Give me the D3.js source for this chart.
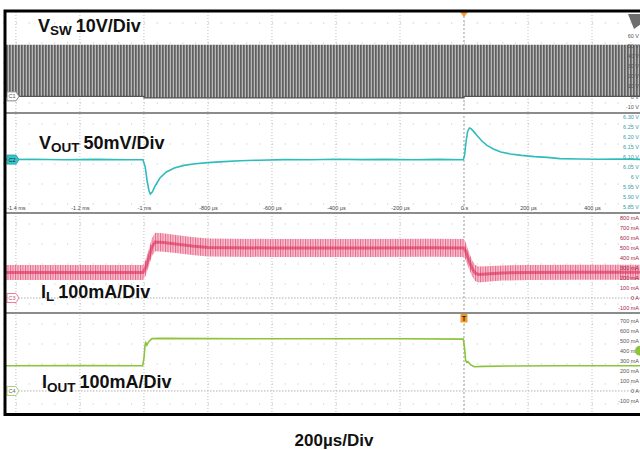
<!DOCTYPE html>
<html>
<head>
<meta charset="utf-8">
<script src="https://cdn.jsdelivr.net/npm/d3@7"></script>
<style>
  body { margin: 0; background: #fff; }
  svg { display: block; font-family: "Liberation Sans", Arial, sans-serif; }
  .lbl { font-weight: bold; fill: #111; }
  .tick-small text { font-size: 5.5px; }
</style>
</head>
<body>
<script>
// time axis (microseconds)
var timeTicks = [-1400, -1200, -1000, -800, -600, -400, -200, 0, 200, 400];
var timeTickLabels = ["-1.4 ms", "-1.2 ms", "-1 ms", "-800 µs", "-600 µs", "-400 µs", "-200 µs", "0 s", "200 µs", "400 µs"];

// right-hand scale labels per channel
var vswTicks = [60, 50, 40, 30, 20, 10, 0, -10];
var vswTickLabels = ["60 V", "50 V", "40 V", "30 V", "20 V", "10 V", "0 V", "-10 V"];
var voutTicks = [6.30, 6.25, 6.20, 6.15, 6.10, 6.05, 6.00, 5.95, 5.90, 5.85];
var voutTickLabels = ["6.30 V", "6.25 V", "6.20 V", "6.15 V", "6.10 V", "6.05 V", "6 V", "5.95 V", "5.90 V", "5.85 V"];
var ilTicks = [800, 700, 600, 500, 400, 300, 200, 100, 0, -100];
var ilTickLabels = ["800 mA", "700 mA", "600 mA", "500 mA", "400 mA", "300 mA", "200 mA", "100 mA", "0 A", "-100 mA"];
var ioutTicks = [700, 600, 500, 400, 300, 200, 100, 0, -100];
var ioutTickLabels = ["700 mA", "600 mA", "500 mA", "400 mA", "300 mA", "200 mA", "100 mA", "0 A", "-100 mA"];

// switch node: envelope of the switching waveform (V)
var vswTime = [-1431, -1000, -1000, 0, 0, 550];
var vswHigh = [51, 51, 51, 51, 51, 51];
var vswLow = [0, 0, -1.5, -1.5, 0, 0];

// output voltage (V)
var voutTime = [-1431, -1350, -1250, -1150, -1050, -1003, -996, -990, -984, -980, -974, -965, -950, -930, -905, -875, -840, -800, -750, -700, -640, -560, -480, -400, -320, -240, -160, -80, -2,
  2, 6, 11, 17, 22, 30, 42, 56, 72, 92, 115, 145, 180, 220, 260, 300, 360, 420, 480, 550];
var voutVal = [6.087, 6.089, 6.086, 6.088, 6.086, 6.086, 6.05, 5.98, 5.93, 5.915, 5.925, 5.955, 5.995, 6.025, 6.045, 6.058, 6.066, 6.072, 6.077, 6.081, 6.084, 6.087, 6.086, 6.089, 6.087, 6.088, 6.086, 6.088, 6.086,
  6.11, 6.17, 6.225, 6.245, 6.242, 6.228, 6.205, 6.18, 6.158, 6.14, 6.125, 6.115, 6.108, 6.102, 6.098, 6.092, 6.09, 6.089, 6.09, 6.088];

// inductor current: ripple centre and half-amplitude (mA)
var ilTime = [-1431, -1200, -1003, -995, -985, -975, -965, -940, -900, -850, -800, -600, -300, -100, 0, 5, 15, 25, 35, 45, 70, 120, 200, 350, 550];
var ilCenter = [255, 256, 255, 300, 400, 510, 560, 555, 540, 520, 505, 500, 500, 502, 500, 470, 380, 300, 250, 236, 240, 250, 256, 258, 258];
var ilRipple = [75, 75, 75, 80, 85, 90, 92, 92, 90, 90, 90, 90, 90, 90, 90, 88, 85, 80, 80, 80, 78, 76, 75, 75, 75];

// output current (mA)
var ioutTime = [-1431, -1200, -1004, -1000, -997, -994, -991, -985, -975, -950, -800, -500, -200, -2, 2, 5, 8, 12, 20, 32, 60, 150, 300, 550];
var ioutVal = [250, 252, 250, 320, 440, 478, 455, 490, 520, 522, 520, 518, 518, 515, 420, 310, 285, 292, 262, 240, 244, 248, 250, 250];

var svgWidth = 640;
var svgHeight = 450;

var svg = d3.select("body")
  .append("svg")
  .attr("width", svgWidth)
  .attr("height", svgHeight);

var defs = svg.append("defs");

// stripe patterns for the dense switching / ripple
var vswPat = defs.append("pattern")
  .attr("id", "vswPat")
  .attr("patternUnits", "userSpaceOnUse")
  .attr("width", 3).attr("height", 10);
vswPat.append("rect").attr("width", 3).attr("height", 10).attr("fill", "#b8b8b8");
vswPat.append("rect").attr("width", 1.7).attr("height", 10).attr("fill", "#606060");

var ilPat = defs.append("pattern")
  .attr("id", "ilPat")
  .attr("patternUnits", "userSpaceOnUse")
  .attr("width", 2.5).attr("height", 10);
ilPat.append("rect").attr("width", 2.5).attr("height", 10).attr("fill", "#f6c4d0");
ilPat.append("rect").attr("width", 1).attr("height", 10).attr("fill", "#e8668a");

var xScale = d3.scaleLinear().domain([-1431, 550]).range([6, 640]);

var yVsw = d3.scaleLinear().domain([-10, 60]).range([106.5, 35.5]);
var yVout = d3.scaleLinear().domain([5.85, 6.30]).range([207, 117]);
var yIl = d3.scaleLinear().domain([-100, 800]).range([308, 218]);
var yIout = d3.scaleLinear().domain([-100, 700]).range([401, 320.5]);

var panels = [
  { top: 12, bottom: 113 },
  { top: 113, bottom: 213 },
  { top: 213, bottom: 313 },
  { top: 313, bottom: 414 }
];

panels.forEach(function(p, i) {
  defs.append("clipPath").attr("id", "clip" + i)
    .append("rect")
    .attr("x", 6).attr("y", p.top + 1)
    .attr("width", 640).attr("height", p.bottom - p.top - 1);
});

// grid
var grid = svg.append("g");
var minorStep = xScale(40) - xScale(0);
panels.forEach(function(p) {
  for (var y = p.top + 11; y < p.bottom - 4; y += 20) {
    grid.append("line")
      .attr("x1", xScale(-1440)).attr("x2", 640)
      .attr("y1", y).attr("y2", y)
      .attr("stroke", "#bcbcbc")
      .attr("stroke-dasharray", "1 " + (minorStep - 1));
  }
});
grid.selectAll(".vgrid")
  .data(timeTicks)
  .enter()
  .append("line")
  .attr("x1", d => xScale(d)).attr("x2", d => xScale(d))
  .attr("y1", 12).attr("y2", 414)
  .attr("stroke", d => d === 0 ? "#9a9a9a" : "#c0c0c0")
  .attr("stroke-dasharray", d => d === 0 ? "2 2" : "1 2");

// reference level lines
[yIl(0), yIout(0)].forEach(function(y) {
  grid.append("line")
    .attr("x1", 6).attr("x2", 640)
    .attr("y1", y).attr("y2", y)
    .attr("stroke", "#b0b0b0")
    .attr("stroke-dasharray", "1.5 1.5");
});

// panel separators
panels.slice(1).forEach(function(p) {
  svg.append("line")
    .attr("x1", 6).attr("x2", 640)
    .attr("y1", p.top).attr("y2", p.top)
    .attr("stroke", "#8c8c8c")
    .attr("stroke-width", 2);
});

// ---- VSW
var vswData = vswTime.map((t, i) => ({ t: t, hi: vswHigh[i], lo: vswLow[i] }));
var g1 = svg.append("g").attr("clip-path", "url(#clip0)");
g1.append("path")
  .datum(vswData)
  .attr("fill", "url(#vswPat)")
  .attr("d", d3.area().x(d => xScale(d.t)).y0(d => yVsw(d.lo)).y1(d => yVsw(d.hi)));
g1.append("path")
  .datum(vswData)
  .attr("fill", "none")
  .attr("stroke", "#555")
  .attr("stroke-width", 1.2)
  .attr("d", d3.line().x(d => xScale(d.t)).y(d => yVsw(d.lo)));

// ---- VOUT
var voutData = voutTime.map((t, i) => ({ t: t, v: voutVal[i] }));
svg.append("g").attr("clip-path", "url(#clip1)")
  .append("path")
  .datum(voutData)
  .attr("fill", "none")
  .attr("stroke", "#2fbcbc")
  .attr("stroke-width", 1.6)
  .attr("d", d3.line().x(d => xScale(d.t)).y(d => yVout(d.v)));

// ---- IL
var ilData = ilTime.map((t, i) => ({ t: t, c: ilCenter[i], r: ilRipple[i] }));
var g3 = svg.append("g").attr("clip-path", "url(#clip2)");
g3.append("path")
  .datum(ilData)
  .attr("fill", "url(#ilPat)")
  .attr("d", d3.area().x(d => xScale(d.t)).y0(d => yIl(d.c - d.r)).y1(d => yIl(d.c + d.r)));
g3.append("path")
  .datum(ilData)
  .attr("fill", "none")
  .attr("stroke", "#d8204f")
  .attr("stroke-opacity", 0.55)
  .attr("stroke-width", 3)
  .attr("d", d3.line().x(d => xScale(d.t)).y(d => yIl(d.c)));

// ---- IOUT
var ioutData = ioutTime.map((t, i) => ({ t: t, v: ioutVal[i] }));
svg.append("g").attr("clip-path", "url(#clip3)")
  .append("path")
  .datum(ioutData)
  .attr("fill", "none")
  .attr("stroke", "#8cc43c")
  .attr("stroke-width", 1.6)
  .attr("d", d3.line().x(d => xScale(d.t)).y(d => yIout(d.v)));

// time labels inside the VOUT panel
var timeAxis = svg.append("g")
  .attr("class", "tick-small")
  .attr("transform", "translate(0, 206)")
  .call(d3.axisBottom(xScale).tickValues(timeTicks).tickSize(0).tickPadding(0)
    .tickFormat((d, i) => timeTickLabels[i]));
timeAxis.select(".domain").remove();
timeAxis.selectAll("text").attr("fill", "#444");

// right-hand channel scales
function rightScale(scale, ticks, labels, color) {
  var ax = svg.append("g")
    .attr("class", "tick-small")
    .attr("transform", "translate(639, 0)")
    .call(d3.axisLeft(scale).tickValues(ticks).tickSize(0).tickPadding(0)
      .tickFormat((d, i) => labels[i]));
  ax.select(".domain").remove();
  ax.selectAll("text").attr("fill", color);
}
rightScale(yVsw, vswTicks, vswTickLabels, "#555");
rightScale(yVout, voutTicks, voutTickLabels, "#3a9c9c");
rightScale(yIl, ilTicks, ilTickLabels, "#a8203f");
rightScale(yIout, ioutTicks, ioutTickLabels, "#555");

// channel tags
function tag(y, name, fill, stroke, textColor) {
  var g = svg.append("g").attr("transform", "translate(7," + y + ")");
  g.append("path")
    .attr("d", "M0,-4.5 H9 L12,0 L9,4.5 H0 Z")
    .attr("fill", fill).attr("stroke", stroke).attr("stroke-width", 1);
  g.append("text")
    .attr("x", 5).attr("y", 2)
    .attr("text-anchor", "middle")
    .attr("font-size", 5.5)
    .attr("fill", textColor)
    .text(name);
}
tag(yVsw(0), "C1", "#fff", "#888", "#555");
tag(yVout(6.087), "C2", "#38c4c4", "#2aa8a8", "#124");
tag(yIl(0), "C3", "#fff", "#e8809a", "#d05070");
tag(yIout(0), "C4", "#fff", "#a8d070", "#666");

// trigger markers
svg.append("path")
  .attr("d", "M" + (xScale(0) - 4) + ",12 h8 l-4,5 z")
  .attr("fill", "#f39a2a");
svg.append("rect")
  .attr("x", xScale(0) - 3.5).attr("y", 314)
  .attr("width", 7).attr("height", 8.5)
  .attr("fill", "#f39a2a");
svg.append("text")
  .attr("x", xScale(0)).attr("y", 320.5)
  .attr("text-anchor", "middle")
  .attr("font-size", 7).attr("font-weight", "bold")
  .attr("fill", "#222")
  .text("T");
svg.append("path")
  .attr("d", "M628,14 H641 V24 L634,29 Z")
  .attr("fill", "#6e6e6e");
svg.append("circle")
  .attr("cx", 640).attr("cy", yIout(400))
  .attr("r", 5)
  .attr("fill", "#8cc43c");

// frame
svg.append("rect")
  .attr("x", 5).attr("y", 11)
  .attr("width", 700).attr("height", 403.5)
  .attr("fill", "none")
  .attr("stroke", "#000")
  .attr("stroke-width", 3);

// channel titles: main letter, subscript, then scale text
function title(x, y, main, sub, rest) {
  var t = svg.append("text").attr("class", "lbl").attr("x", x).attr("y", y)
    .attr("font-size", 18);
  t.append("tspan").text(main);
  t.append("tspan").attr("font-size", 13.5).attr("dy", 3.5).text(sub);
  t.append("tspan").attr("dy", -3.5).attr("dx", 4).text(rest);
}
title(38, 31.5, "V", "SW", "10V/Div");
title(39, 148.5, "V", "OUT", "50mV/Div");
title(41, 297.5, "I", "L", "100mA/Div");
title(42, 388, "I", "OUT", "100mA/Div");

svg.append("text").attr("class", "lbl")
  .attr("x", 334).attr("y", 446)
  .attr("text-anchor", "middle")
  .attr("font-size", 17)
  .text("200µs/Div");
</script>
</body>
</html>
